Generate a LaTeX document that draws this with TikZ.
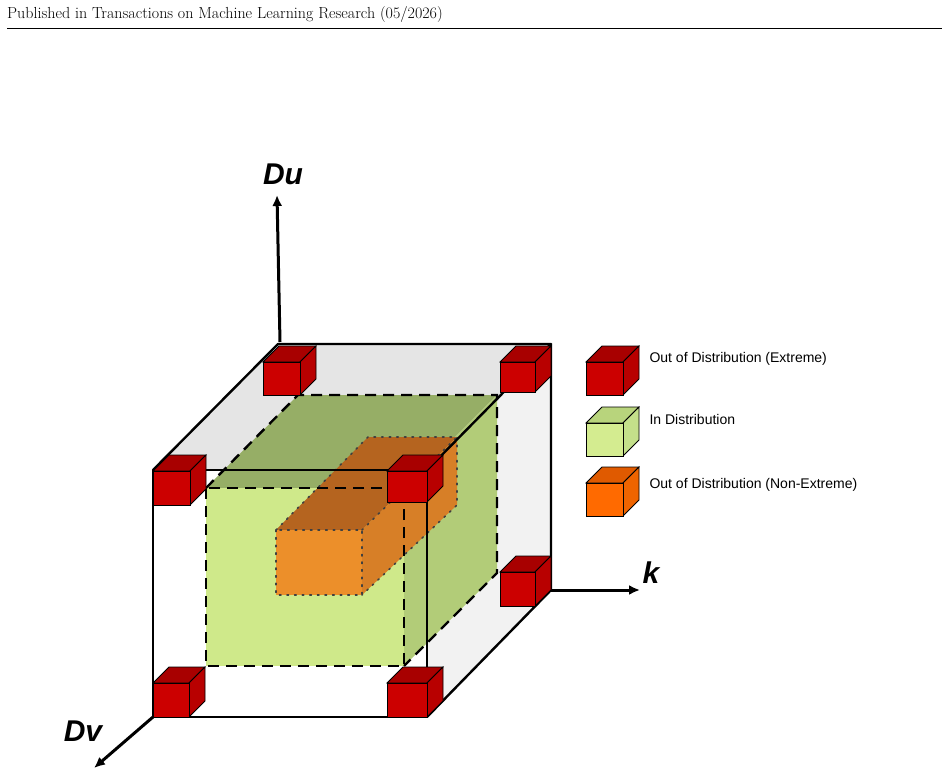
\documentclass[tikz,border=0pt]{standalone}
\usepackage{fontspec}
\newfontfamily\arialf{Liberation Sans}
\usetikzlibrary{arrows.meta}
\begin{document}
\begin{tikzpicture}[x=1pt,y=-1pt,
  axis/.style={line width=3pt,-{Latex[length=11pt,width=10pt]}},
  axlbl/.style={font=\arialf\bfseries\itshape\fontsize{30}{30}\selectfont},
  leg/.style={font=\arialf\fontsize{14}{14}\selectfont,anchor=west},
  outer/.style={line width=2.4pt,line join=round},
  gdash/.style={line width=2.4pt,dash pattern=on 11pt off 7pt},
  odot/.style={line width=1.6pt,dash pattern=on 1.6pt off 6pt,line cap=round,draw=black!75}]
\useasboundingbox (0,0) rectangle (948,778);
\newcommand\smallcube[7]{% x y w h front top side (depth 16)
  \fill[#6,draw=black,line width=0.8pt] (#1,#2) -- ++(16,-16) -- ++(#3,0) -- ++(-16,16) -- cycle;
  \fill[#7,draw=black,line width=0.8pt] (#1+#3,#2) -- ++(16,-16) -- ++(0,#4) -- ++(-16,16) -- cycle;
  \fill[#5,draw=black,line width=0.8pt] (#1,#2) rectangle ++(#3,#4);}
\definecolor{rF}{HTML}{CC0000}\definecolor{rT}{HTML}{A80000}\definecolor{rS}{HTML}{B80000}
\definecolor{gF}{RGB}{212,236,144}\definecolor{gT}{RGB}{184,212,124}\definecolor{gS}{RGB}{196,224,138}
\definecolor{oF}{RGB}{255,106,0}\definecolor{oT}{RGB}{224,90,0}\definecolor{oS}{RGB}{239,100,0}
\definecolor{bT}{RGB}{150,174,102}\definecolor{bS}{RGB}{178,204,120}\definecolor{bF}{RGB}{207,233,138}
\definecolor{cT}{RGB}{181,100,31}\definecolor{cS}{RGB}{215,127,39}\definecolor{cF}{RGB}{236,143,42}
% header
\node[anchor=west,inner sep=0,font=\fontsize{16}{16}\selectfont] (hdr) at (7,15) {Published in Transactions on Machine Learning Research (05/2026)};
\draw[line width=0.6pt] (7,28) -- (942,28);
% outer cube coordinates
\coordinate (FTL) at (153,470);\coordinate (FTR) at (427,470);
\coordinate (FBL) at (153,717);\coordinate (FBR) at (427,717);
\coordinate (BTL) at (278,344);\coordinate (BTR) at (551,344);
\coordinate (BBR) at (551,590);
% gray faces
\fill[black!10] (FTL) -- (BTL) -- (BTR) -- (FTR) -- cycle;
\fill[black!5] (FTR) -- (BTR) -- (BBR) -- (FBR) -- cycle;
% green box
\fill[bT] (206,488) -- (298,395) -- (497,395) -- (404,488) -- cycle;
\fill[bS] (404,488) -- (497,395) -- (497,573) -- (404,666) -- cycle;
\fill[bF] (206,488) rectangle (404,666);
% orange box
\fill[cT] (276,530) -- (368,437) -- (457,437) -- (362,530) -- cycle;
\fill[cS] (362,530) -- (457,437) -- (457,505) -- (362,595) -- cycle;
\fill[cF] (276,530) rectangle (362,595);
\draw[odot] (276,530) rectangle (362,595);
\draw[odot] (276,530) -- (368,437) -- (457,437) -- (457,505) -- (362,595);
\draw[odot] (362,530) -- (457,437);
% green dashed edges
\draw[gdash] (206,488) rectangle (404,666);
\draw[gdash] (206,488) -- (298,395) -- (497,395) -- (497,573) -- (404,666);
% outer solid edges
\draw[outer] (FTL) rectangle (FBR);
\draw[outer] (FTL) -- (BTL) -- (BTR) -- (FTR);
\draw[outer] (BTR) -- (BBR) -- (FBR);
% axes
\coordinate (duE) at (277,195);\coordinate (kE) at (640,590);\coordinate (dvE) at (94,768);
\draw[axis] (280,342) -- (duE);
\draw[axis] (BBR) -- (kE);
\draw[axis] (FBL) -- (dvE);
\node[axlbl] (du) at (283,174) {Du};
\node[axlbl] (kl) at (651,573) {k};
\node[axlbl] (dv) at (83,731) {Dv};
% red corner cubes
\smallcube{263}{362}{37}{33}{rF}{rT}{rS}
\smallcube{500}{362}{35}{30}{rF}{rT}{rS}
\smallcube{153}{471}{37}{34}{rF}{rT}{rS}
\smallcube{387}{471}{40}{31}{rF}{rT}{rS}
\smallcube{500}{572}{35}{34}{rF}{rT}{rS}
\smallcube{153}{683}{36}{34}{rF}{rT}{rS}
\smallcube{387}{683}{40}{34}{rF}{rT}{rS}
% legend
\smallcube{586}{362}{37}{33}{rF}{rT}{rS}
\smallcube{586}{423}{37}{33}{gF}{gT}{gS}
\smallcube{586}{483}{37}{33}{oF}{oT}{oS}
\node[leg] (l1) at (646,359) {Out of Distribution (Extreme)};
\node[leg] (l2) at (646,419) {In Distribution};
\node[leg] (l3) at (646,485) {Out of Distribution (Non-Extreme)};
\end{tikzpicture}
\end{document}
